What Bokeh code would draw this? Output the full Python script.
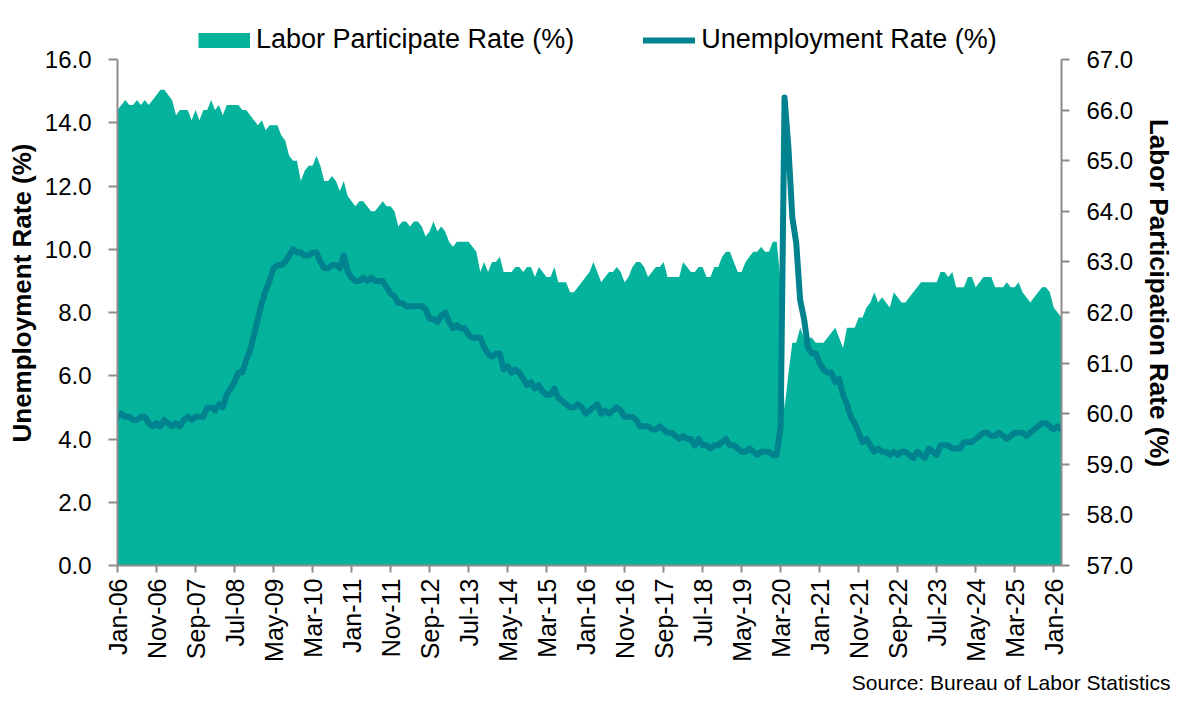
import math
from bokeh.plotting import figure
from bokeh.models import (Range1d, LinearAxis, FixedTicker, Legend, LegendItem,
                          Title, PrintfTickFormatter)
from bokeh.embed import file_html
from bokeh.resources import INLINE

# ---------------- data (monthly, Jan-06 .. Mar-26) ----------------
tick_positions = [0, 10, 20, 30, 40, 50, 60, 70, 80, 90, 100, 110, 120,
                  130, 140, 150, 160, 170, 180, 190, 200, 210, 220, 230, 240]
tick_labels = ["Jan-06", "Nov-06", "Sep-07", "Jul-08", "May-09", "Mar-10",
               "Jan-11", "Nov-11", "Sep-12", "Jul-13", "May-14", "Mar-15",
               "Jan-16", "Nov-16", "Sep-17", "Jul-18", "May-19", "Mar-20",
               "Jan-21", "Nov-21", "Sep-22", "Jul-23", "May-24", "Mar-25",
               "Jan-26"]

unemployment = [
    4.7, 4.8, 4.7, 4.7, 4.6, 4.6, 4.7, 4.7, 4.5, 4.4, 4.5, 4.4,
    4.6, 4.5, 4.4, 4.5, 4.4, 4.6, 4.7, 4.6, 4.7, 4.7, 4.7, 5.0,
    5.0, 4.9, 5.1, 5.0, 5.4, 5.6, 5.8, 6.1, 6.1, 6.5, 6.8, 7.3,
    7.8, 8.3, 8.7, 9.0, 9.4, 9.5, 9.5, 9.6, 9.8, 10.0, 9.9, 9.9,
    9.8, 9.8, 9.9, 9.9, 9.6, 9.4, 9.4, 9.5, 9.5, 9.4, 9.8, 9.3,
    9.1, 9.0, 9.0, 9.1, 9.0, 9.1, 9.0, 9.0, 9.0, 8.8, 8.6, 8.5,
    8.3, 8.3, 8.2, 8.2, 8.2, 8.2, 8.2, 8.1, 7.8, 7.8, 7.7, 7.9,
    8.0, 7.7, 7.5, 7.6, 7.5, 7.5, 7.3, 7.2, 7.2, 7.2, 6.9, 6.7,
    6.6, 6.7, 6.7, 6.2, 6.3, 6.1, 6.2, 6.1, 5.9, 5.7, 5.8, 5.6,
    5.7, 5.5, 5.4, 5.4, 5.6, 5.3, 5.2, 5.1, 5.0, 5.0, 5.1, 5.0,
    4.8, 4.9, 5.0, 5.1, 4.8, 4.9, 4.8, 4.9, 5.0, 4.9, 4.7, 4.7,
    4.7, 4.6, 4.4, 4.4, 4.4, 4.3, 4.3, 4.4, 4.3, 4.2, 4.2, 4.1,
    4.0, 4.1, 4.0, 4.0, 3.8, 4.0, 3.8, 3.8, 3.7, 3.8, 3.8, 3.9,
    4.0, 3.8, 3.8, 3.7, 3.6, 3.6, 3.7, 3.6, 3.5, 3.6, 3.6, 3.6,
    3.5, 3.5, 4.4, 14.8, 13.2, 11.0, 10.2, 8.4, 7.8, 6.9, 6.7, 6.7,
    6.4, 6.2, 6.1, 6.1, 5.8, 5.9, 5.4, 5.1, 4.7, 4.5, 4.2, 3.9,
    4.0, 3.8, 3.6, 3.7, 3.6, 3.6, 3.5, 3.6, 3.5, 3.6, 3.6, 3.5,
    3.4, 3.6, 3.5, 3.4, 3.7, 3.6, 3.5, 3.8, 3.8, 3.8, 3.7, 3.7,
    3.7, 3.9, 3.9, 3.9, 4.0, 4.1, 4.2, 4.2, 4.1, 4.1, 4.2, 4.1,
    4.0, 4.1, 4.2, 4.2, 4.2, 4.1, 4.2, 4.3, 4.4, 4.5, 4.5, 4.4,
    4.3, 4.4, 4.3,
]

participation = [
    66.0, 66.1, 66.2, 66.1, 66.1, 66.2, 66.1, 66.2, 66.1, 66.2, 66.3, 66.4,
    66.4, 66.3, 66.2, 65.9, 66.0, 66.0, 66.0, 65.8, 66.0, 65.8, 66.0, 66.0,
    66.2, 66.0, 66.1, 65.9, 66.1, 66.1, 66.1, 66.1, 66.0, 66.0, 65.9, 65.8,
    65.7, 65.8, 65.6, 65.7, 65.7, 65.7, 65.5, 65.4, 65.1, 65.0, 65.0, 64.6,
    64.8, 64.9, 64.9, 65.1, 64.9, 64.6, 64.6, 64.7, 64.6, 64.4, 64.6, 64.3,
    64.2, 64.1, 64.2, 64.2, 64.1, 64.0, 64.0, 64.1, 64.2, 64.1, 64.1, 64.0,
    63.7, 63.8, 63.8, 63.7, 63.8, 63.8, 63.7, 63.5, 63.6, 63.8, 63.6, 63.7,
    63.6, 63.4, 63.3, 63.4, 63.4, 63.4, 63.4, 63.3, 63.2, 62.8, 63.0, 62.8,
    63.0, 63.0, 63.1, 62.8, 62.8, 62.8, 62.9, 62.9, 62.8, 62.9, 62.9, 62.7,
    62.9, 62.8, 62.7, 62.7, 62.9, 62.6, 62.6, 62.6, 62.4, 62.4, 62.5, 62.6,
    62.7, 62.8, 63.0, 62.8, 62.6, 62.7, 62.8, 62.8, 62.9, 62.8, 62.6, 62.7,
    62.9, 63.0, 63.0, 62.9, 62.7, 62.8, 62.9, 62.9, 63.0, 62.7, 62.7, 62.7,
    62.7, 63.0, 62.9, 62.8, 62.8, 62.9, 62.9, 62.7, 62.7, 62.9, 62.9, 63.1,
    63.2, 63.2, 63.0, 62.8, 62.8, 63.0, 63.1, 63.2, 63.2, 63.3, 63.2, 63.2,
    63.4, 63.4, 62.6, 60.1, 60.8, 61.4, 61.4, 61.7, 61.5, 61.5, 61.5, 61.4,
    61.4, 61.4, 61.5, 61.6, 61.7, 61.5, 61.3, 61.7, 61.7, 61.7, 61.9, 61.9,
    62.1, 62.2, 62.4, 62.2, 62.3, 62.2, 62.1, 62.4, 62.3, 62.2, 62.2, 62.3,
    62.4, 62.5, 62.6, 62.6, 62.6, 62.6, 62.6, 62.8, 62.8, 62.7, 62.8, 62.5,
    62.5, 62.5, 62.7, 62.7, 62.5, 62.6, 62.7, 62.7, 62.7, 62.5, 62.5, 62.5,
    62.6, 62.5, 62.5, 62.6, 62.4, 62.3, 62.2, 62.3, 62.4, 62.5, 62.5, 62.4,
    62.1, 62.0, 61.9,
]

ur_ticks = [0, 2, 4, 6, 8, 10, 12, 14, 16]
lfpr_ticks = [57, 58, 59, 60, 61, 62, 63, 64, 65, 66, 67]

months = list(range(len(unemployment)))

# ---------------- styling / layout ----------------
FONT = "Liberation Sans"
AREA_COLOR = "#05B39D"
LINE_COLOR = "#01838F"
AXIS_COLOR = "#8C8C8C"

W, H = 1177, 701
TOP, BOTTOM, LEFT, RIGHT = 20, 136, 117, 114   # canvas borders around the frame
AXIS_PX = 506                                    # pixel height of the scaled axes
EXTRA_PX = (H - TOP - BOTTOM) - AXIS_PX          # room above the axes for the legend

ur_lo, ur_hi = ur_ticks[0], ur_ticks[-1]
lf_lo, lf_hi = lfpr_ticks[0], lfpr_ticks[-1]
ur_top = ur_hi + EXTRA_PX * (ur_hi - ur_lo) / AXIS_PX
lf_top = lf_hi + EXTRA_PX * (lf_hi - lf_lo) / AXIS_PX

p = figure(width=W, height=H, output_backend="svg", toolbar_location=None,
           x_range=Range1d(0, len(months) - 1), y_range=Range1d(ur_lo, ur_top),
           min_border_left=LEFT, min_border_right=RIGHT,
           min_border_top=TOP, min_border_bottom=BOTTOM)
p.extra_y_ranges = {"lfpr": Range1d(lf_lo, lf_top)}
p.xgrid.visible = False
p.ygrid.visible = False
p.outline_line_color = None
p.background_fill_color = "white"
p.border_fill_color = "white"

# area (right axis)
p.varea(x=months, y1=[lf_lo] * len(months), y2=participation,
        y_range_name="lfpr", fill_color=AREA_COLOR)
# line (left axis)
ur_line = p.line(x=months, y=unemployment, line_color=LINE_COLOR,
                 line_width=6, line_join="round", line_cap="round")

# legend swatch for the area (invisible renderer, thick butt line = rectangle)
nan = float("nan")
area_swatch = p.line(x=[nan], y=[nan], line_color=AREA_COLOR, line_width=15,
                     line_cap="butt")


def style_axis(ax, tick_out, standoff, size):
    ax.axis_line_color = AXIS_COLOR
    ax.axis_line_width = 2
    ax.major_tick_line_color = AXIS_COLOR
    ax.major_tick_line_width = 2
    ax.major_tick_in = 0
    ax.major_tick_out = tick_out
    ax.minor_tick_line_color = None
    ax.major_label_standoff = standoff
    ax.major_label_text_font = FONT
    ax.major_label_text_font_size = size
    ax.major_label_text_color = "black"
    ax.axis_label_text_font = FONT
    ax.axis_label_text_font_size = "26px"
    ax.axis_label_text_font_style = "bold"
    ax.axis_label_text_color = "black"


# x axis
xaxis = p.xaxis[0]
xaxis.ticker = FixedTicker(ticks=tick_positions)
xaxis.major_label_overrides = {pos: lab for pos, lab in zip(tick_positions, tick_labels)}
xaxis.major_label_orientation = math.pi / 2
style_axis(xaxis, 7, 6, "25px")

# left axis
yaxis = p.yaxis[0]
yaxis.ticker = FixedTicker(ticks=ur_ticks)
yaxis.formatter = PrintfTickFormatter(format="%.1f")
yaxis.bounds = (ur_lo, ur_hi)
yaxis.axis_label = "Unemployment Rate (%)"
style_axis(yaxis, 9, 17, "24px")
yaxis.axis_label_standoff = 5

# right axis
raxis = LinearAxis(y_range_name="lfpr", ticker=FixedTicker(ticks=lfpr_ticks),
                   formatter=PrintfTickFormatter(format="%.1f"),
                   bounds=(lf_lo, lf_hi),
                   axis_label="Labor Participation Rate (%)")
style_axis(raxis, 8, 17, "24px")
raxis.axis_label_standoff = 8
p.add_layout(raxis, "right")

# legend above the scaled axes (inside the frame's spare top band)
legend = Legend(items=[LegendItem(label="Labor Participate Rate (%)", renderers=[area_swatch]),
                       LegendItem(label="Unemployment Rate (%)", renderers=[ur_line])],
                orientation="horizontal", location=(81, AXIS_PX + 4),
                glyph_width=52, glyph_height=30, label_height=30,
                label_standoff=6, spacing=69, padding=0, margin=0,
                border_line_color=None, background_fill_alpha=0,
                label_text_font=FONT, label_text_font_size="27px",
                label_text_color="black")
p.add_layout(legend)

# source note
p.add_layout(Title(text="Source: Bureau of Labor Statistics", align="right",
                   offset=-109, standoff=8, text_font=FONT,
                   text_font_size="21px", text_font_style="normal",
                   text_color="black"), "below")

open("out.html", "w").write(file_html(p, INLINE))
